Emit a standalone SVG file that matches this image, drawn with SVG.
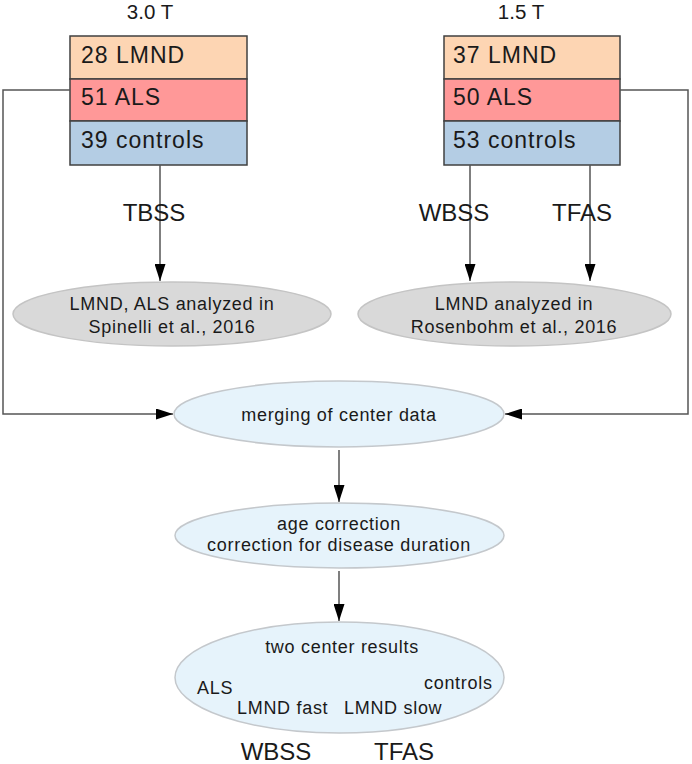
<svg xmlns="http://www.w3.org/2000/svg" width="692" height="764" viewBox="0 0 692 764">
<defs>
<marker id="ah" markerWidth="17" markerHeight="11" refX="17" refY="5.5" orient="auto" markerUnits="userSpaceOnUse">
<path d="M0,0 L17,5.5 L0,11 Z" fill="#000"/>
</marker>
<style>
text{font-family:"Liberation Sans",Arial,sans-serif;fill:#1a1a1a}
.big{font-size:23px;letter-spacing:1px}
.lbl{font-size:24px;text-anchor:middle}
.hd{font-size:20.5px;text-anchor:middle}
.sm{font-size:18px;letter-spacing:0.7px}
.c{text-anchor:middle}
.cell{stroke:#404040;stroke-width:1.5}
.gray{fill:#d9d9d9;stroke:#c4c4c4;stroke-width:1.5}
.blue{fill:#e6f3fb;stroke:#c4c8cc;stroke-width:1.5}
.con{fill:none;stroke:#555;stroke-width:1.5}
</style>
</defs>
<rect width="692" height="764" fill="#fff"/>
<g id="box30">
<text class="hd" x="150" y="19">3.0 T</text>
<rect class="cell" x="70" y="36" width="177" height="43" fill="#fdd5b3"/>
<rect class="cell" x="70" y="79" width="177" height="42" fill="#ff9898"/>
<rect class="cell" x="70" y="121" width="177" height="44" fill="#b4cde4"/>
<text class="big" x="81" y="63">28 LMND</text>
<text class="big" x="81" y="105">51 ALS</text>
<text class="big" x="81" y="148">39 controls</text>
</g>
<g id="box15">
<text class="hd" x="521" y="19">1.5 T</text>
<rect class="cell" x="444" y="36" width="176" height="43" fill="#fdd5b3"/>
<rect class="cell" x="444" y="79" width="176" height="42" fill="#ff9898"/>
<rect class="cell" x="444" y="121" width="176" height="44" fill="#b4cde4"/>
<text class="big" x="453" y="63">37 LMND</text>
<text class="big" x="453" y="105">50 ALS</text>
<text class="big" x="453" y="148">53 controls</text>
</g>
<g id="spinelli">
<ellipse class="gray" cx="172" cy="314" rx="159" ry="32"/>
<text class="sm c" x="172" y="310">LMND, ALS analyzed in</text>
<text class="sm c" x="172" y="333">Spinelli et al., 2016</text>
</g>
<g id="rosenbohm">
<ellipse class="gray" cx="514.5" cy="314" rx="156.5" ry="32"/>
<text class="sm c" x="514" y="310">LMND analyzed in</text>
<text class="sm c" x="514" y="333">Rosenbohm et al., 2016</text>
</g>
<g id="merging">
<ellipse class="blue" cx="339" cy="414" rx="165" ry="33"/>
<text class="sm c" x="339" y="421">merging of center data</text>
</g>
<g id="correction">
<ellipse class="blue" cx="339.5" cy="535.5" rx="164.5" ry="32.5"/>
<text class="sm c" x="339" y="530">age correction</text>
<text class="sm c" x="339" y="551">correction for disease duration</text>
</g>
<g id="results">
<ellipse class="blue" cx="339.5" cy="677.5" rx="164.5" ry="55.5"/>
<text class="sm c" x="342" y="653">two center results</text>
<text class="sm" x="197" y="694">ALS</text>
<text class="sm" x="424" y="689">controls</text>
<text class="sm" x="237" y="714">LMND fast</text>
<text class="sm" x="344" y="714">LMND slow</text>
<text class="lbl" x="276" y="760">WBSS</text>
<text class="lbl" x="404" y="760">TFAS</text>
</g>
<g id="connectors">
<line class="con" x1="160" y1="165" x2="160" y2="281" marker-end="url(#ah)"/>
<line class="con" x1="470" y1="165" x2="470" y2="281" marker-end="url(#ah)"/>
<line class="con" x1="590" y1="165" x2="590" y2="281" marker-end="url(#ah)"/>
<polyline class="con" points="70,90 3,90 3,414 173,414" marker-end="url(#ah)"/>
<polyline class="con" points="620,90 688,90 688,414 505,414" marker-end="url(#ah)"/>
<line class="con" x1="339" y1="450" x2="339" y2="502" marker-end="url(#ah)"/>
<line class="con" x1="339" y1="571" x2="339" y2="621" marker-end="url(#ah)"/>
<text class="lbl" x="154" y="221">TBSS</text>
<text class="lbl" x="454" y="221">WBSS</text>
<text class="lbl" x="582" y="221">TFAS</text>
</g>
</svg>
